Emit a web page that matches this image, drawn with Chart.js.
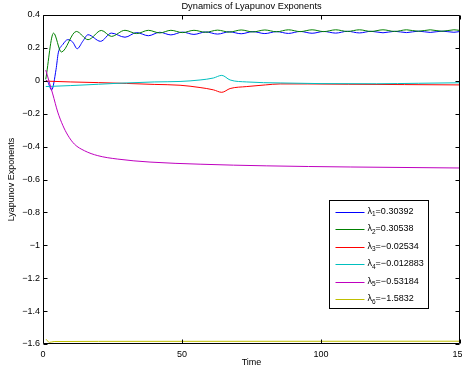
<!DOCTYPE html>
<html><head><meta charset="utf-8">
<script src="https://cdn.jsdelivr.net/npm/chart.js@4.4.0/dist/chart.umd.min.js"></script>
<style>html,body{margin:0;padding:0;background:#fff;}#wrap{width:462px;height:371px;}canvas{display:block;}</style>
</head><body>
<div id="wrap"><canvas id="c" width="462" height="371"></canvas></div>
<script>
const chartTitle = 'Dynamics of Lyapunov Exponents';
const xAxisTitle = 'Time';
const yAxisTitle = 'Lyapunov Exponents';
const seriesSubscripts = ['1', '2', '3', '4', '5', '6'];
const seriesFinalValues = ['0.30392', '0.30538', '\u22120.02534', '\u22120.012883', '\u22120.53184', '\u22121.5832'];
const seriesColors = ['#0000ff', '#008000', '#ff0000', '#00bfbf', '#bf00bf', '#bfbf00'];
const xTickValues = [0, 50, 100, 150];
const yTickValues = [0.4, 0.2, 0, -0.2, -0.4, -0.6, -0.8, -1, -1.2, -1.4, -1.6];

const timeL1 = [1.0, 1.7, 3.1, 4.7, 5.5, 7.1, 8.9, 10.7, 12.3, 14.3, 16.2, 20.7, 24.6, 29.5, 33.7, 37.9, 42.0, 46.0, 50.2, 54.3, 58.5, 62.8, 67.0, 71.3, 75.5, 79.8, 84.0, 88.3, 92.5, 96.8, 101.0, 105.3, 109.5, 113.8, 118.0, 122.3, 126.5, 130.8, 135.0, 139.3, 143.5, 147.8, 150.0];
const valueL1 = [0.005, -0.005, -0.056, 0.07, 0.17, 0.22, 0.25, 0.235, 0.195, 0.24, 0.28, 0.24, 0.29, 0.265, 0.293, 0.274, 0.295, 0.279, 0.296, 0.282, 0.297, 0.284, 0.298, 0.286, 0.299, 0.287, 0.299, 0.288, 0.300, 0.289, 0.300, 0.290, 0.301, 0.291, 0.301, 0.292, 0.301, 0.293, 0.302, 0.294, 0.302, 0.295, 0.300];

const timeL2 = [1.0, 3.8, 6.6, 12.0, 16.2, 21.0, 24.6, 29.5, 33.7, 37.9, 42.0, 46.0, 50.2, 54.3, 58.5, 62.8, 67.0, 71.3, 75.5, 79.8, 84.0, 88.3, 92.5, 96.8, 101.0, 105.3, 109.5, 113.8, 118.0, 122.3, 126.5, 130.8, 135.0, 139.3, 143.5, 147.8, 150.0];
const valueL2 = [0.01, 0.29, 0.175, 0.30, 0.25, 0.306, 0.27, 0.307, 0.287, 0.307, 0.291, 0.307, 0.293, 0.307, 0.295, 0.308, 0.296, 0.309, 0.297, 0.309, 0.298, 0.310, 0.299, 0.310, 0.299, 0.310, 0.300, 0.310, 0.300, 0.310, 0.300, 0.310, 0.301, 0.310, 0.301, 0.310, 0.306];

const timeL3 = [1, 10, 20, 30, 40, 49.3, 56.5, 61.3, 64.3, 67.3, 73.3, 80, 85.3, 95, 110, 130, 150];
const valueL3 = [-0.002, -0.007, -0.011, -0.016, -0.022, -0.027, -0.041, -0.055, -0.07, -0.047, -0.035, -0.025, -0.019, -0.019, -0.021, -0.023, -0.025];

const timeL4 = [1, 10, 20, 27, 40, 49.3, 56.5, 61.3, 64.3, 67.3, 73.3, 85.3, 100, 120, 135, 150];
const valueL4 = [-0.035, -0.029, -0.021, -0.015, -0.007, -0.004, 0.005, 0.017, 0.033, 0.005, -0.007, -0.013, -0.017, -0.018, -0.015, -0.012];

const timeL5 = [1.0, 3.5, 5.3, 7.1, 8.9, 11.3, 14.9, 19.7, 26.9, 38.5, 56.5, 80.5, 110.5, 150];
const valueL5 = [0.065, -0.08, -0.19, -0.27, -0.33, -0.385, -0.425, -0.455, -0.476, -0.494, -0.507, -0.517, -0.524, -0.53];

const timeL6 = [1.1, 2.3, 4, 20, 150];
const valueL6 = [-1.571, -1.59, -1.585, -1.584, -1.583];

const seriesTimes = [timeL1, timeL2, timeL3, timeL4, timeL5, timeL6];
const seriesValues = [valueL1, valueL2, valueL3, valueL4, valueL5, valueL6];

const FONT = '"Liberation Sans", Arial, Helvetica, sans-serif';

const datasets = seriesValues.map((vals, i) => ({
  label: '\u03bb' + seriesSubscripts[i] + '=' + seriesFinalValues[i],
  data: vals.map((v, j) => ({ x: seriesTimes[i][j], y: v })),
  borderColor: seriesColors[i],
  backgroundColor: seriesColors[i],
  borderWidth: 1,
  pointRadius: 0,
  fill: false,
  cubicInterpolationMode: 'monotone',
  order: 6 - i
}));

function fmtY(v) {
  const r = Math.round(v * 10) / 10;
  if (r === 0) return '0';
  return (r < 0 ? '\u2212' : '') + String(Math.abs(r));
}

const framePlugin = {
  id: 'frame',
  afterDatasetsDraw(chart) {
    const { ctx, chartArea: a, scales } = chart;
    ctx.save();
    ctx.strokeStyle = '#000';
    ctx.lineWidth = 1;
    ctx.beginPath();
    const L = Math.round(a.left) + 0.5, R = Math.round(a.right) - 0.5;
    const T = Math.round(a.top) + 0.5, B = Math.round(a.bottom) - 0.5;
    ctx.rect(L, T, R - L, B - T);
    const tl = 4;
    xTickValues.forEach(v => {
      const x = Math.round(scales.x.getPixelForValue(v)) + 0.5;
      ctx.moveTo(x, B); ctx.lineTo(x, B - tl);
      ctx.moveTo(x, T); ctx.lineTo(x, T + tl);
    });
    yTickValues.forEach(v => {
      const y = Math.round(scales.y.getPixelForValue(v)) + 0.5;
      ctx.moveTo(L, y); ctx.lineTo(L + tl, y);
      ctx.moveTo(R, y); ctx.lineTo(R - tl, y);
    });
    ctx.stroke();

    // legend box
    const bx = 329.5, by = 200.5, bw = 99, bh = 108;
    ctx.fillStyle = '#fff';
    ctx.fillRect(bx, by, bw, bh);
    ctx.strokeStyle = '#000';
    ctx.strokeRect(bx, by, bw, bh);
    const rowH = 17.5;
    chart.data.datasets.forEach((ds, i) => {
      const y = by + 11 + i * rowH;
      const ly = Math.round(y) + 0.5;
      ctx.beginPath();
      ctx.strokeStyle = seriesColors[i];
      ctx.lineWidth = 1;
      ctx.moveTo(bx + 6, ly);
      ctx.lineTo(bx + 35, ly);
      ctx.stroke();
      ctx.fillStyle = '#000';
      ctx.textBaseline = 'middle';
      ctx.textAlign = 'left';
      let tx = bx + 38;
      ctx.font = '9px ' + FONT;
      const lam = ds.label.charAt(0);
      ctx.fillText(lam, tx, y);
      tx += ctx.measureText(lam).width;
      ctx.font = '6.5px ' + FONT;
      const sub = ds.label.charAt(1);
      ctx.fillText(sub, tx, y + 3);
      tx += ctx.measureText(sub).width;
      ctx.font = '9px ' + FONT;
      ctx.fillText(ds.label.slice(2), tx, y);
    });
    ctx.restore();
  }
};

new Chart(document.getElementById('c'), {
  type: 'line',
  data: { datasets },
  options: {
    responsive: false,
    animation: false,
    layout: { padding: { top: 0, right: 2, left: 0, bottom: 0 } },
    plugins: {
      legend: { display: false },
      tooltip: { enabled: false },
      title: {
        display: true, text: chartTitle, color: '#000', fullSize: false,
        font: { family: FONT, size: 9.3, weight: 'normal' },
        padding: { top: 0.4, bottom: 3.44 }
      }
    },
    scales: {
      x: {
        type: 'linear', min: 0, max: 150,
        afterBuildTicks: s => { s.ticks = xTickValues.map(v => ({ value: v })); },
        afterFit: s => { s.height = 27; s.paddingLeft = 0; s.paddingRight = 0; },
        grid: { display: false, drawTicks: false },
        border: { display: false },
        ticks: { color: '#000', padding: 5, maxRotation: 0, autoSkip: false, font: { family: FONT, size: 9 } },
        title: { display: true, text: xAxisTitle, color: '#000', font: { family: FONT, size: 9 }, padding: { top: 0, bottom: 2.6 } }
      },
      y: {
        type: 'linear', min: -1.6, max: 0.4,
        afterBuildTicks: s => { s.ticks = yTickValues.map(v => ({ value: v })); },
        afterFit: s => { s.width = 43; s.paddingTop = 0; s.paddingBottom = 0; },
        grid: { display: false, drawTicks: false },
        border: { display: false },
        ticks: { color: '#000', padding: 3, autoSkip: false, font: { family: FONT, size: 9 }, callback: v => fmtY(v) },
        title: { display: true, text: yAxisTitle, color: '#000', font: { family: FONT, size: 9 }, padding: { top: 6.6, bottom: 0 } }
      }
    }
  },
  plugins: [framePlugin]
});
</script>
</body></html>
